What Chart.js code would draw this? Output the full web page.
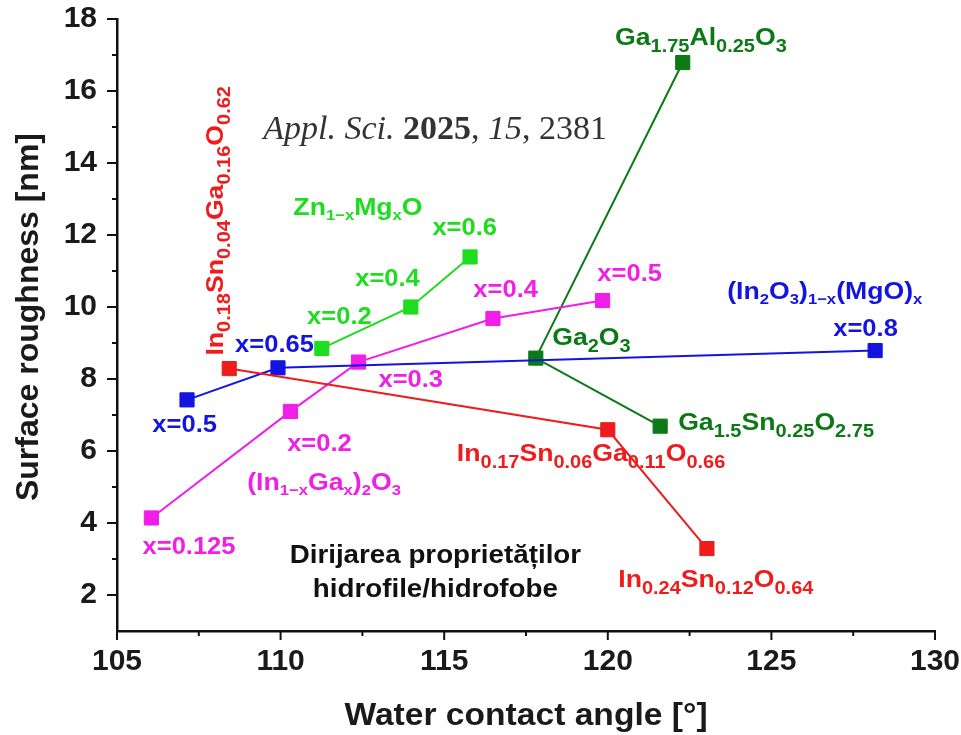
<!DOCTYPE html>
<html>
<head>
<meta charset="utf-8">
<script src="https://cdn.jsdelivr.net/npm/chart.js@4.4.1/dist/chart.umd.min.js"></script>
<style>
  html, body { margin: 0; padding: 0; background: #fff; }
  #wrap { width: 961px; height: 735px; position: relative; }
</style>
</head>
<body>
<div id="wrap"><canvas id="chart"></canvas></div>
<script>
// water contact angle [deg] vs surface roughness [nm]
const izoX = [108.43, 120.0, 123.03];          // In-Sn-Ga-O (red)
const izoY = [8.29, 6.59, 3.29];
const imoX = [107.14, 109.92, 128.17];         // (In2O3)1-x(MgO)x (blue)
const imoY = [7.42, 8.31, 8.79];
const zmoX = [111.26, 113.98, 115.79];         // Zn1-xMgxO (light green)
const zmoY = [8.85, 10.0, 11.39];
const igoX = [106.05, 110.30, 112.38, 116.49, 119.84];  // (In1-xGax)2O3 (magenta)
const igoY = [4.14, 7.10, 8.47, 9.68, 10.18];
const gaoX = [122.29, 117.80, 121.60];         // Ga2O3 family (dark green)
const gaoY = [16.79, 8.58, 6.69];

const xTicks = [105, 110, 115, 120, 125, 130];
const yTicks = [2, 4, 6, 8, 10, 12, 14, 16, 18];

const RED = '#ee1c1c', BLUE = '#1414e0', LGREEN = '#1edc1e', MAGENTA = '#f01ee6', DGREEN = '#0b7a16';
const FONT = '"Liberation Sans", Arial, sans-serif';
const SX = 1.11; // the figure text is a bit wide

// annotations: anchor in data units, text uses _{..} for subscripts
const notes = [
  { t: 'Ga_{1.75}Al_{0.25}O_{3}', x: 120.22, y: 17.53, c: DGREEN },
  { t: 'Ga_{2}O_{3}', x: 118.30, y: 9.18, c: DGREEN },
  { t: 'Ga_{1.5}Sn_{0.25}O_{2.75}', x: 122.15, y: 6.82, c: DGREEN },
  { t: 'In_{0.17}Sn_{0.06}Ga_{0.11}O_{0.66}', x: 123.59, y: 5.95, c: RED, align: 'right' },
  { t: 'In_{0.24}Sn_{0.12}O_{0.64}', x: 120.32, y: 2.45, c: RED },
  { t: 'In_{0.18}Sn_{0.04}Ga_{0.16}O_{0.62}', x: 107.97, y: 8.65, c: RED, rot: true },
  { t: '(In_{2}O_{3})_{1−x}(MgO)_{x}', x: 123.65, y: 10.46, c: BLUE, sub: 15, off: 5 },
  { t: 'x=0.8', x: 126.89, y: 9.43, c: BLUE, size: 23 },
  { t: 'x=0.65', x: 108.61, y: 8.99, c: BLUE, size: 23 },
  { t: 'x=0.5', x: 106.08, y: 6.76, c: BLUE, size: 23 },
  { t: 'Zn_{1−x}Mg_{x}O', x: 110.39, y: 12.80, c: LGREEN, sub: 15, off: 5 },
  { t: 'x=0.6', x: 114.64, y: 12.22, c: LGREEN, size: 23 },
  { t: 'x=0.4', x: 112.28, y: 10.80, c: LGREEN, size: 23 },
  { t: 'x=0.2', x: 110.81, y: 9.77, c: LGREEN, size: 23 },
  { t: 'x=0.5', x: 119.68, y: 10.96, c: MAGENTA, size: 23 },
  { t: 'x=0.4', x: 115.89, y: 10.52, c: MAGENTA, size: 23 },
  { t: 'x=0.3', x: 112.99, y: 8.01, c: MAGENTA, size: 23 },
  { t: 'x=0.2', x: 110.20, y: 6.23, c: MAGENTA, size: 23 },
  { t: '(In_{1−x}Ga_{x})_{2}O_{3}', x: 108.98, y: 5.17, c: MAGENTA, sub: 15, off: 5 },
  { t: 'x=0.125', x: 105.78, y: 3.36, c: MAGENTA, size: 23 },
  { t: 'Dirijarea proprietăților', x: 114.73, y: 3.14, c: '#111', size: 25, align: 'center' },
  { t: 'hidrofile/hidrofobe', x: 114.73, y: 2.19, c: '#111', size: 25, align: 'center' },
  { x: 109.47, y: 15.0, c: '#333', size: 33, sx: 1.03, fam: '"Liberation Serif", "Times New Roman", serif',
    parts: [['Appl. Sci. ', 'italic'], ['2025', 'bold'], [', ', 'normal'], ['15', 'italic'], [', 2381', 'normal']] }
];

function splitSub(str) {
  const out = [];
  const re = /_\{([^}]*)\}/g;
  let last = 0, m;
  while ((m = re.exec(str))) {
    if (m.index > last) out.push({ s: str.slice(last, m.index), sub: false });
    out.push({ s: m[1], sub: true });
    last = re.lastIndex;
  }
  if (last < str.length) out.push({ s: str.slice(last), sub: false });
  return out;
}

function drawNote(ctx, n, px, py) {
  const size = n.size || 24;
  const sub = n.sub || 18;
  const off = n.off || 7;
  const fam = n.fam || FONT;
  const parts = n.parts
    ? n.parts.map(p => ({ s: p[0], font: `${p[1] === 'italic' ? 'italic ' : ''}${p[1] === 'bold' ? 'bold ' : ''}${size}px ${fam}`, dy: 0 }))
    : splitSub(n.t).map(p => ({ s: p.s, font: `bold ${p.sub ? sub : size}px ${fam}`, dy: p.sub ? off : 0 }));
  let w = 0;
  parts.forEach(p => { ctx.font = p.font; p.w = ctx.measureText(p.s).width; w += p.w; });
  ctx.save();
  ctx.translate(px, py);
  if (n.rot) ctx.rotate(-Math.PI / 2);
  ctx.scale(n.sx || SX, 1);
  let x0 = n.align === 'right' ? -w : n.align === 'center' ? -w / 2 : 0;
  const base = size * 0.36;
  ctx.fillStyle = n.c;
  ctx.textBaseline = 'alphabetic';
  parts.forEach(p => {
    ctx.font = p.font;
    ctx.fillText(p.s, x0, base + p.dy);
    x0 += p.w;
  });
  ctx.restore();
}

const decor = {
  id: 'decor',
  afterDraw(chart) {
    const { ctx, chartArea: a } = chart;
    const xs = chart.scales.x, ys = chart.scales.y;
    ctx.save();
    // tick marks, long for labelled ticks, short for minor
    ctx.strokeStyle = '#111';
    ctx.lineWidth = 2;
    ctx.beginPath();
    xs.ticks.forEach(t => {
      const px = xs.getPixelForValue(t.value);
      ctx.moveTo(px, a.bottom);
      ctx.lineTo(px, a.bottom + (xTicks.includes(t.value) ? 9 : 5));
    });
    ys.ticks.forEach(t => {
      if (t.value <= ys.min) return;
      const py = ys.getPixelForValue(t.value);
      ctx.moveTo(a.left, py);
      ctx.lineTo(a.left - (yTicks.includes(t.value) ? 10 : 5), py);
    });
    ctx.stroke();

    // axis titles
    ctx.fillStyle = '#1a1a1a';
    ctx.font = `bold 32px ${FONT}`;
    ctx.textAlign = 'center';
    ctx.textBaseline = 'middle';
    ctx.save();
    ctx.translate((a.left + a.right) / 2, 716);
    ctx.scale(1.05, 1);
    ctx.fillText('Water contact angle [°]', 0, 0);
    ctx.restore();
    ctx.save();
    ctx.translate(29, 317);
    ctx.rotate(-Math.PI / 2);
    ctx.fillText('Surface roughness [nm]', 0, 0);
    ctx.restore();
    ctx.restore();

    notes.forEach(n => drawNote(ctx, n, xs.getPixelForValue(n.x), ys.getPixelForValue(n.y)));
  }
};

function series(xs, ys, color) {
  return {
    data: xs.map((v, i) => ({ x: v, y: ys[i] })),
    showLine: true,
    borderColor: color,
    backgroundColor: color,
    borderWidth: 2,
    pointStyle: 'rect',
    pointRadius: 10,
    pointBorderWidth: 1,
    pointBorderColor: color,
    pointBackgroundColor: color
  };
}

new Chart(document.getElementById('chart'), {
  type: 'scatter',
  data: {
    datasets: [
      series(izoX, izoY, RED),
      series(imoX, imoY, BLUE),
      series(igoX, igoY, MAGENTA),
      series(zmoX, zmoY, LGREEN),
      series(gaoX, gaoY, DGREEN)
    ]
  },
  options: {
    animation: false,
    responsive: true,
    maintainAspectRatio: false,
    layout: { padding: { top: 19, right: 26, left: 0, bottom: 0 } },
    plugins: { legend: { display: false }, tooltip: { enabled: false } },
    scales: {
      x: {
        type: 'linear',
        min: 105, max: 130,
        afterFit: s => { s.height = 104; s.paddingLeft = 0; s.paddingRight = 0; },
        grid: { display: true, drawOnChartArea: false, drawTicks: false },
        border: { display: true, color: '#111', width: 2.5 },
        ticks: {
          stepSize: 2.5, autoSkip: false, maxRotation: 0, padding: 13,
          color: '#1a1a1a', font: { family: FONT, size: 30, weight: 'bold' },
          callback: v => xTicks.includes(v) ? String(v) : ''
        }
      },
      y: {
        min: 1, max: 18,
        afterFit: s => { s.width = 117; s.paddingTop = 0; s.paddingBottom = 0; },
        grid: { display: true, drawOnChartArea: false, drawTicks: false },
        border: { display: true, color: '#111', width: 2.5 },
        ticks: {
          stepSize: 1, autoSkip: false, padding: 20,
          color: '#1a1a1a', font: { family: FONT, size: 30, weight: 'bold' },
          callback: v => yTicks.includes(v) ? String(v) : ''
        }
      }
    }
  },
  plugins: [decor]
});
</script>
</body>
</html>
